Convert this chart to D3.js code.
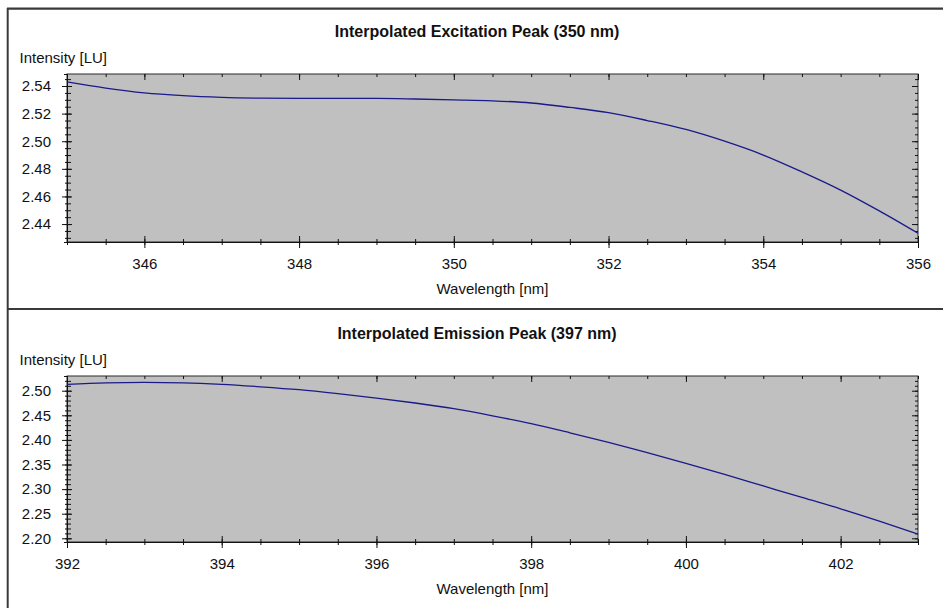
<!DOCTYPE html>
<html><head><meta charset="utf-8">
<script src="https://cdn.jsdelivr.net/npm/d3@7"></script>
<style>
body{margin:0;background:#fff}
svg{display:block}
text{font-family:"Liberation Sans",Arial,sans-serif;fill:#111}
</style>
</head><body>
<svg id="c" width="943" height="608"></svg>
<script>
// ---- data ----
const exTitle = "Interpolated Excitation Peak (350 nm)";
const emTitle = "Interpolated Emission Peak (397 nm)";
const yLabel = "Intensity [LU]";
const xLabel = "Wavelength [nm]";

const exWavelength = [345, 345.5, 346, 346.5, 347, 347.5, 348, 348.5, 349, 349.5, 350, 350.5, 351, 351.5, 352, 352.5, 353, 353.5, 354, 354.5, 355, 355.5, 356];
const exIntensity  = [2.5430, 2.5385, 2.5350, 2.5330, 2.5318, 2.5312, 2.5310, 2.5310, 2.5310, 2.5306, 2.5300, 2.5293, 2.5277, 2.5245, 2.5207, 2.5150, 2.5085, 2.5000, 2.4900, 2.4778, 2.4646, 2.4495, 2.4333];
const exXRange = [345, 356];
const exYRange = [2.427, 2.5487];
const exXTicks = [346, 348, 350, 352, 354, 356];
const exYTicks = [2.44, 2.46, 2.48, 2.50, 2.52, 2.54];

const emWavelength = [392, 392.5, 393, 393.5, 394, 394.5, 395, 395.5, 396, 396.5, 397, 397.5, 398, 398.5, 399, 399.5, 400, 400.5, 401, 401.5, 402, 402.5, 403];
const emIntensity  = [2.5130, 2.5160, 2.5168, 2.5160, 2.5130, 2.5080, 2.5020, 2.4940, 2.4850, 2.4750, 2.4635, 2.4490, 2.4330, 2.4145, 2.3950, 2.3740, 2.3525, 2.3300, 2.3065, 2.2830, 2.2600, 2.2350, 2.2087];
const emXRange = [392, 403];
const emYRange = [2.1925, 2.5299];
const emXTicks = [392, 394, 396, 398, 400, 402];
const emYTicks = [2.20, 2.25, 2.30, 2.35, 2.40, 2.45, 2.50];

// ---- drawing ----
const svg = d3.select("#c");

// outer frame
svg.append("line").attr("x1",7).attr("x2",943).attr("y1",8.7).attr("y2",8.7).attr("stroke","#3a3a3a").attr("stroke-width",2.2);
svg.append("line").attr("x1",7.7).attr("x2",7.7).attr("y1",8).attr("y2",608).attr("stroke","#3a3a3a").attr("stroke-width",2);
svg.append("line").attr("x1",7).attr("x2",943).attr("y1",309).attr("y2",309).attr("stroke","#3a3a3a").attr("stroke-width",2.2);

function panel(cfg){
  const L = 67, R = 918, T = cfg.top, B = cfg.top + cfg.h;
  const g = svg.append("g");
  const x = d3.scaleLinear().domain(cfg.xRange).range([L, R]);
  const y = d3.scaleLinear().domain(cfg.yRange).range([B, T]);

  // title
  g.append("text").attr("x",477).attr("y",T-37).attr("text-anchor","middle")
    .attr("font-size",16).attr("font-weight","bold").text(cfg.title);
  // y label
  g.append("text").attr("x",19.5).attr("y",T-11.5).attr("font-size",15).text(yLabel);

  // plot background
  g.append("rect").attr("x",L).attr("y",T).attr("width",R-L).attr("height",B-T)
    .attr("fill","#c0c0c0").attr("stroke","#2a2a2a").attr("stroke-width",1);

  const xMinor = d3.range(cfg.xRange[0], cfg.xRange[1]+1e-9, 0.5);
  const yMinor = d3.range(cfg.yTicks[0] - Math.floor((cfg.yTicks[0]-cfg.yRange[0])/cfg.yMinorStep)*cfg.yMinorStep,
                          cfg.yRange[1], cfg.yMinorStep);

  // bottom axis (minor ticks crossing)
  const bMinor = g.append("g").attr("transform",`translate(0,${B})`)
    .call(d3.axisBottom(x).tickValues(xMinor).tickSize(3).tickFormat(""));
  bMinor.selectAll(".tick line").attr("y1",-3).attr("y2",3).attr("stroke","#111");
  bMinor.select(".domain").attr("stroke","#111");
  const bMajor = g.append("g").attr("transform",`translate(0,${B})`)
    .call(d3.axisBottom(x).tickValues(cfg.xTicks).tickSize(6).tickPadding(10).tickFormat(d3.format("d")));
  bMajor.select(".domain").remove();
  bMajor.selectAll(".tick line").attr("y1",-6).attr("y2",6).attr("stroke","#111");
  bMajor.selectAll("text").attr("font-size",15).attr("fill","#111").attr("font-family","Liberation Sans, Arial, sans-serif");

  // top axis (inside ticks)
  const tMinor = g.append("g").attr("transform",`translate(0,${T})`)
    .call(d3.axisTop(x).tickValues(xMinor).tickSize(-3).tickFormat(""));
  tMinor.select(".domain").remove();
  tMinor.selectAll(".tick line").attr("stroke","#111");
  const tMajor = g.append("g").attr("transform",`translate(0,${T})`)
    .call(d3.axisTop(x).tickValues(cfg.xTicks).tickSize(-6).tickFormat(""));
  tMajor.select(".domain").remove();
  tMajor.selectAll(".tick line").attr("stroke","#111");

  // left axis (crossing ticks)
  const lMinor = g.append("g").attr("transform",`translate(${L},0)`)
    .call(d3.axisLeft(y).tickValues(yMinor).tickSize(3).tickFormat(""));
  lMinor.selectAll(".tick line").attr("x1",-2).attr("x2",4).attr("stroke","#111");
  lMinor.select(".domain").attr("stroke","#111");
  const lMajor = g.append("g").attr("transform",`translate(${L},0)`)
    .call(d3.axisLeft(y).tickValues(cfg.yTicks).tickSize(5).tickPadding(11).tickFormat(d3.format(".2f")));
  lMajor.select(".domain").remove();
  lMajor.selectAll(".tick line").attr("x1",-5).attr("x2",5).attr("stroke","#111");
  lMajor.selectAll("text").attr("font-size",15).attr("fill","#111").attr("font-family","Liberation Sans, Arial, sans-serif");

  // right axis (inside ticks)
  const rMinor = g.append("g").attr("transform",`translate(${R},0)`)
    .call(d3.axisRight(y).tickValues(yMinor).tickSize(-3).tickFormat(""));
  rMinor.select(".domain").remove();
  rMinor.selectAll(".tick line").attr("stroke","#111");
  const rMajor = g.append("g").attr("transform",`translate(${R},0)`)
    .call(d3.axisRight(y).tickValues(cfg.yTicks).tickSize(-6).tickFormat(""));
  rMajor.select(".domain").remove();
  rMajor.selectAll(".tick line").attr("stroke","#111");

  // x label
  g.append("text").attr("x",(L+R)/2).attr("y",B+52).attr("text-anchor","middle")
    .attr("font-size",15).text(xLabel);

  // curve
  const pts = cfg.xs.map((d,i)=>[d, cfg.ys[i]]);
  g.append("path").datum(pts)
    .attr("fill","none").attr("stroke","#1a1a8a").attr("stroke-width",1.3)
    .attr("d", d3.line().x(d=>x(d[0])).y(d=>y(d[1])).curve(d3.curveMonotoneX));
}

panel({top:74, h:168, title:exTitle, xRange:exXRange, yRange:exYRange, xTicks:exXTicks, yTicks:exYTicks,
       yMinorStep:0.005, xs:exWavelength, ys:exIntensity});
panel({top:376, h:166, title:emTitle, xRange:emXRange, yRange:emYRange, xTicks:emXTicks, yTicks:emYTicks,
       yMinorStep:0.01, xs:emWavelength, ys:emIntensity});
</script>
</body></html>
